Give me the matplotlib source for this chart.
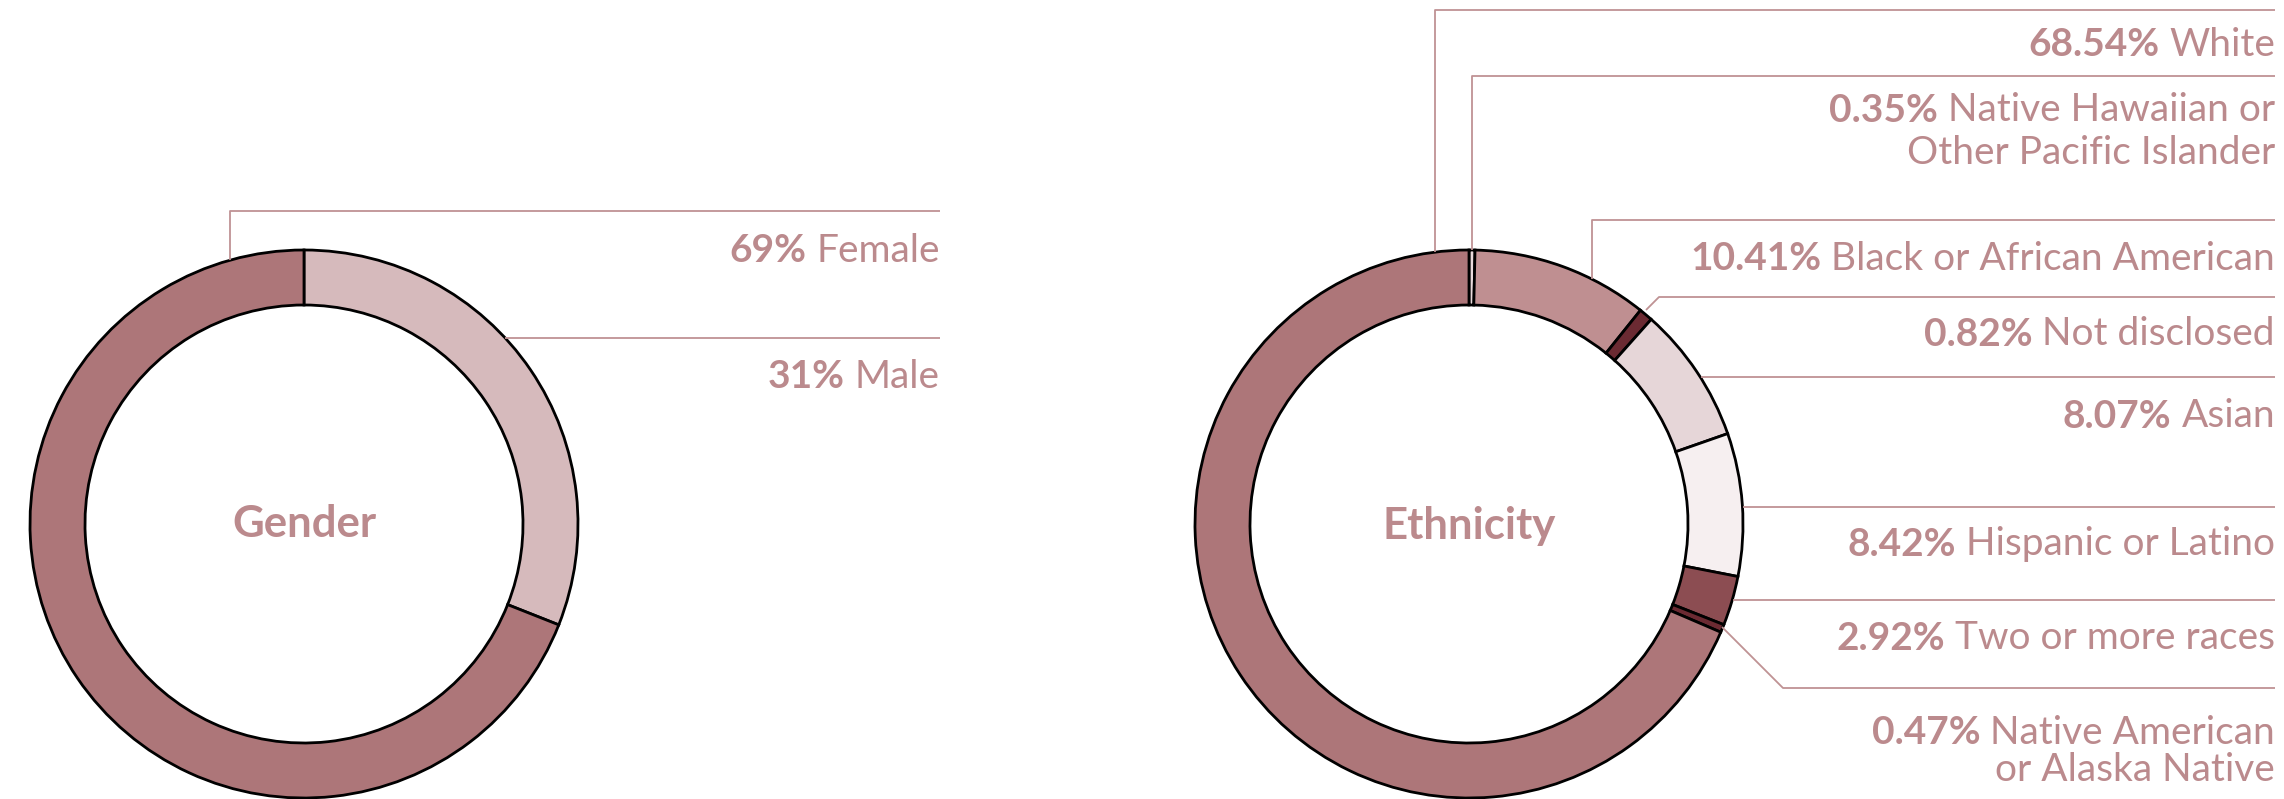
import matplotlib
matplotlib.use("Agg")
import matplotlib.pyplot as plt

plt.rcParams['font.family'] = ['Lato', 'DejaVu Sans']

# ---------------- data ----------------
gender_labels = ["Male", "Female"]
gender_values = [31, 69]
gender_pct_text = ["31%", "69%"]
gender_colors = ["#d6babc", "#ad7679"]

eth_labels = ["Native Hawaiian or\nOther Pacific Islander", "Black or African American",
              "Not disclosed", "Asian", "Hispanic or Latino", "Two or more races",
              "Native American\nor Alaska Native", "White"]
eth_values = [0.35, 10.41, 0.82, 8.07, 8.42, 2.92, 0.47, 68.54]
eth_colors = ["#e9dadc", "#bf8f91", "#6b2a32", "#e6d6d8", "#f6eff0", "#8c4d52",
              "#6b2a32", "#ad7679"]

TEXT_C = "#bb8a8d"
LINE_C = "#bf9294"

W, H = 2284, 799
fig = plt.figure(figsize=(W / 100, H / 100), dpi=100)
ax = fig.add_axes([0, 0, 1, 1])

R_OUT, RING = 274, 55
G_CENTER = (304, 524)
E_CENTER = (1469, 524)

wp = dict(width=RING, edgecolor="black", linewidth=2.0)
ax.pie(gender_values, colors=gender_colors, center=G_CENTER, radius=R_OUT,
       startangle=-90, counterclock=True, wedgeprops=wp)
ax.pie(eth_values, colors=eth_colors, center=E_CENTER, radius=R_OUT,
       startangle=-90, counterclock=True, wedgeprops=wp)

ax.set_xlim(0, W)
ax.set_ylim(H, 0)
ax.set_aspect('equal')
ax.axis('off')

ax.text(G_CENTER[0], G_CENTER[1], "Gender", ha='center', va='center',
        fontsize=31.5, fontweight='bold', color=TEXT_C)
ax.text(E_CENTER[0], E_CENTER[1] + 2, "Ethnicity", ha='center', va='center',
        fontsize=31.5, fontweight='bold', color=TEXT_C)

# ---------------- labels layout ----------------
FS = 28
renderer = fig.canvas.get_renderer()


def label(xr, ys, pct, name):
    lines = name.split("\n")
    first = None
    for i, ln in enumerate(lines):
        t = ax.text(xr, ys[i], ln, ha='right', va='center', fontsize=FS,
                    color=TEXT_C)
        if i == 0:
            first = t
    bb = first.get_window_extent(renderer)
    x0 = ax.transData.inverted().transform((bb.x0, bb.y0))[0]
    ax.text(x0 - 10, ys[0], pct, ha='right', va='center', fontsize=FS,
            fontweight='bold', color=TEXT_C)


def leader(pts):
    xs = [p[0] for p in pts]
    ys = [p[1] for p in pts]
    ax.plot(xs, ys, color=LINE_C, lw=1.3, solid_capstyle='butt')


# gender
leader([(230, 260), (230, 211), (940, 211)])
leader([(505, 338), (940, 338)])
label(940, [251], gender_pct_text[1], gender_labels[1])
label(940, [377], gender_pct_text[0], gender_labels[0])

# ethnicity
eth_leaders = [
    [(1472, 250), (1472, 76), (2275, 76)],
    [(1592, 279), (1592, 220), (2275, 220)],
    [(1646, 310), (1659, 297), (2275, 297)],
    [(1701, 377), (2275, 377)],
    [(1743, 507), (2275, 507)],
    [(1733, 600), (2275, 600)],
    [(1722, 627), (1783, 688), (2275, 688)],
    [(1435, 252), (1435, 10), (2275, 10)],
]
eth_text_y = [[110, 153], [259], [334], [416], [544], [638], [733, 770], [45]]

for pts in eth_leaders:
    leader(pts)
for v, name, ys in zip(eth_values, eth_labels, eth_text_y):
    label(2275, ys, f"{v:.2f}%", name)

fig.savefig("out.png", dpi=100, facecolor="white")
